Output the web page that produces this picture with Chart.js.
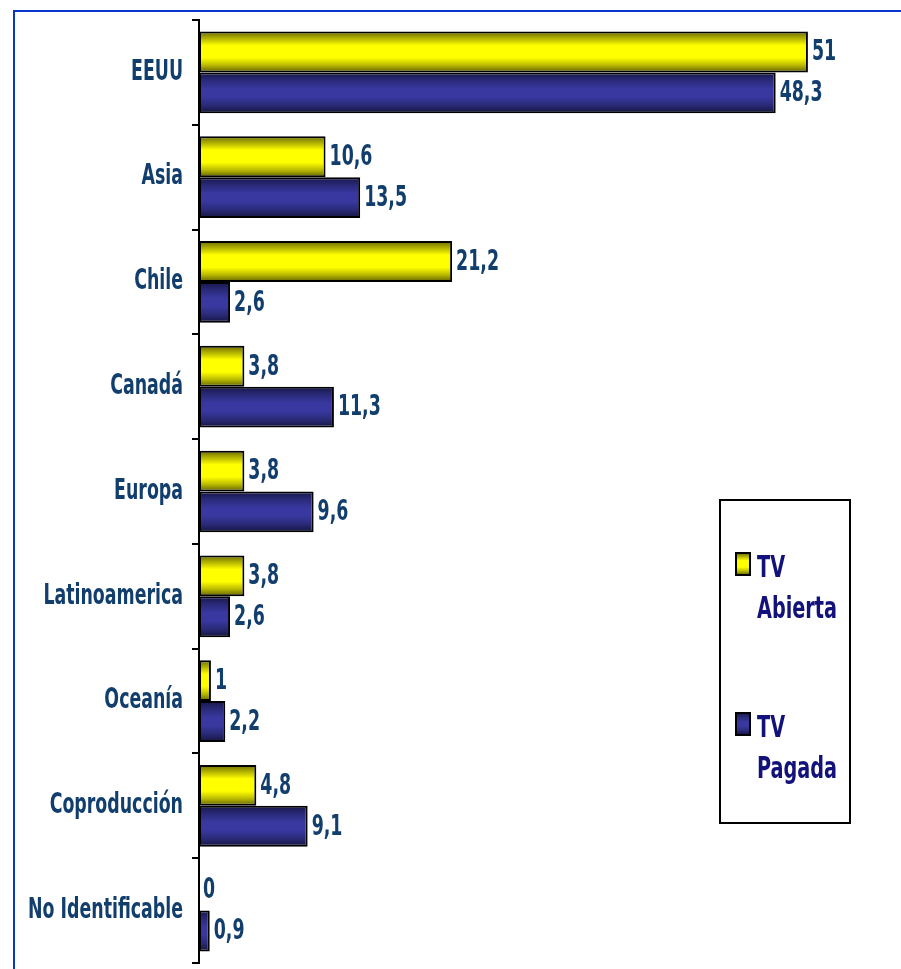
<!DOCTYPE html>
<html>
<head>
<meta charset="utf-8">
<script src="https://cdn.jsdelivr.net/npm/chart.js@4/dist/chart.umd.min.js"></script>
<style>
  html,body{margin:0;padding:0;background:#fff;}
  #wrap{position:relative;width:901px;height:969px;}
</style>
</head>
<body>
<div id="wrap"><canvas id="c" width="901" height="969"></canvas></div>
<script>
const categories = ['EEUU','Asia','Chile','Canadá','Europa','Latinoamerica','Oceanía','Coproducción','No Identificable'];
const seriesNames = ['TV Abierta','TV Pagada'];
const tvAbierta = [51, 10.6, 21.2, 3.8, 3.8, 3.8, 1, 4.8, 0];
const tvPagada  = [48.3, 13.5, 2.6, 11.3, 9.6, 2.6, 2.2, 9.1, 0.9];
const xMax = 58;

const FONT = "'DejaVu Sans Condensed','DejaVu Sans',sans-serif";
const SX = 0.69;
const CAT_PCT = 0.78;
const yellowStops = [[0,'#6a6a00'],[0.18,'#b8b800'],[0.34,'#ffff00'],[0.64,'#ffff00'],[0.82,'#bcbc00'],[1,'#5e5e00']];
const blueStops   = [[0,'#161648'],[0.2,'#2a2a7a'],[0.4,'#3838a0'],[0.6,'#3838a0'],[0.8,'#2a2a78'],[1,'#141440']];

function barGradient(ctx, stops) {
  const chart = ctx.chart;
  const y = chart.scales && chart.scales.y;
  if (!y || !chart.chartArea || ctx.dataIndex === undefined) return stops[2][1];
  const c = y.getPixelForValue(ctx.dataIndex);
  const catH = (y.bottom - y.top) / categories.length;
  const h = catH * CAT_PCT / 2;
  const top = ctx.datasetIndex === 0 ? c - h : c;
  const g = chart.ctx.createLinearGradient(0, top, 0, top + h);
  stops.forEach(s => g.addColorStop(s[0], s[1]));
  return g;
}

function squeezedText(ctx, txt, x, y, sx) {
  ctx.save();
  ctx.translate(x, y);
  ctx.scale(sx, 1);
  ctx.fillText(txt, 0, 0);
  ctx.restore();
}

const framePlugin = {
  id: 'frame',
  beforeDraw(chart) {
    const ctx = chart.ctx;
    ctx.save();
    ctx.fillStyle = '#fff';
    ctx.fillRect(0, 0, chart.width, chart.height);
    ctx.strokeStyle = '#0a36cc';
    ctx.lineWidth = 2;
    ctx.beginPath();
    ctx.moveTo(14, chart.height);
    ctx.lineTo(14, 11);
    ctx.lineTo(chart.width, 11);
    ctx.stroke();
    ctx.restore();
  }
};

const valueLabels = {
  id: 'valueLabels',
  afterDatasetsDraw(chart) {
    const ctx = chart.ctx;
    ctx.save();
    ctx.font = 'bold 28px ' + FONT;
    ctx.fillStyle = '#123e6d';
    ctx.textAlign = 'left';
    ctx.textBaseline = 'middle';
    chart.data.datasets.forEach((ds, di) => {
      const meta = chart.getDatasetMeta(di);
      meta.data.forEach((bar, i) => {
        const txt = String(ds.data[i]).replace('.', ',');
        squeezedText(ctx, txt, bar.x + 4, bar.y + 1, SX);
      });
    });
    ctx.restore();
  }
};

const customLegend = {
  id: 'customLegend',
  afterDraw(chart) {
    const ctx = chart.ctx;
    const bx = 720, by = 500, bw = 130, bh = 323;
    ctx.save();
    ctx.strokeStyle = '#000';
    ctx.lineWidth = 2;
    ctx.strokeRect(bx, by, bw, bh);
    const items = [{y: 553, stops: yellowStops}, {y: 713, stops: blueStops}];
    chart.data.datasets.forEach((ds, i) => {
      const it = items[i];
      const g = ctx.createLinearGradient(0, it.y, 0, it.y + 22);
      it.stops.forEach(s => g.addColorStop(s[0], s[1]));
      ctx.fillStyle = g;
      ctx.fillRect(736, it.y, 14, 22);
      ctx.lineWidth = 2;
      ctx.strokeStyle = '#000';
      ctx.strokeRect(736, it.y, 14, 22);
      ctx.fillStyle = '#12127a';
      ctx.font = 'bold 31px ' + FONT;
      ctx.textAlign = 'left';
      ctx.textBaseline = 'alphabetic';
      const words = ds.label.split(' ');
      words.forEach((w, k) => {
        squeezedText(ctx, w, 757, it.y + 24 + k * 41, SX);
      });
    });
    ctx.restore();
  }
};

new Chart(document.getElementById('c'), {
  type: 'bar',
  data: {
    labels: categories,
    datasets: [
      {
        label: seriesNames[0],
        data: tvAbierta,
        backgroundColor: (ctx) => barGradient(ctx, yellowStops),
        borderColor: '#000',
        borderWidth: 2,
        borderSkipped: false
      },
      {
        label: seriesNames[1],
        data: tvPagada,
        backgroundColor: (ctx) => barGradient(ctx, blueStops),
        borderColor: '#000',
        borderWidth: 2,
        borderSkipped: false
      }
    ]
  },
  options: {
    indexAxis: 'y',
    responsive: false,
    animation: false,
    devicePixelRatio: 1,
    layout: { padding: { top: 20, bottom: 6, left: 0, right: 9.5 } },
    datasets: { bar: { categoryPercentage: CAT_PCT, barPercentage: 1 } },
    plugins: {
      legend: { display: false },
      tooltip: { enabled: false }
    },
    scales: {
      x: {
        display: false,
        min: 0,
        max: xMax
      },
      y: {
        afterFit(scale) {
          scale.width = 199;
          scale.paddingTop = 0;
          scale.paddingBottom = 0;
          if (!scale._squeezed) {
            scale._squeezed = true;
            const orig = scale.drawLabels.bind(scale);
            scale.drawLabels = function (area) {
              const c = this.ctx;
              const proto = Object.getPrototypeOf(c).fillText;
              c.fillText = function (t, x, y) {
                c.save();
                c.translate(x, y);
                c.scale(SX, 1);
                proto.call(c, t, 0, 0);
                c.restore();
              };
              try { orig(area); } finally { delete c.fillText; }
            };
          }
        },
        grid: {
          display: true,
          drawOnChartArea: false,
          drawTicks: true,
          tickLength: 7,
          color: '#000',
          lineWidth: 2,
          offset: true
        },
        border: { display: true, color: '#000', width: 2 },
        ticks: {
          color: '#123e6d',
          padding: 9,
          font: { family: FONT, size: 28, weight: 'bold' }
        }
      }
    }
  },
  plugins: [framePlugin, valueLabels, customLegend]
});
</script>
</body>
</html>
